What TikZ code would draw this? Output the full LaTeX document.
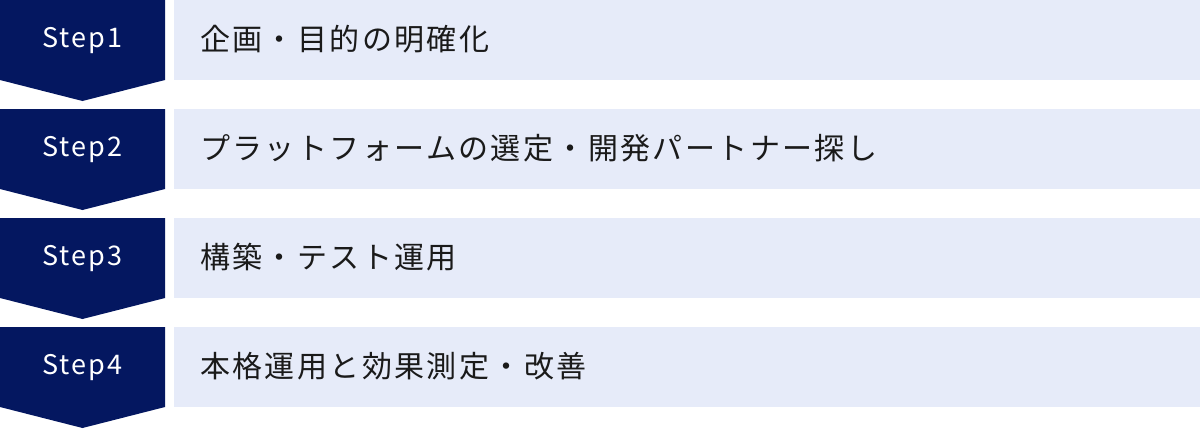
\documentclass[tikz,border=0pt]{standalone}
\usepackage{fontspec}
\setmainfont{Noto Sans CJK JP}[LetterSpace=8]
\newfontfamily\stepfont{Noto Sans CJK JP}[LetterSpace=8]
\definecolor{stepnavy}{RGB}{4,23,96}
\definecolor{rowblue}{RGB}{230,235,249}
\definecolor{rowtext}{RGB}{26,26,26}

\begin{document}
\begin{tikzpicture}[x=1pt,y=-1pt,
    steplabel/.style={text=white, font=\stepfont\fontsize{27}{27}\selectfont, inner sep=0pt},
    rowbox/.style={fill=rowblue, minimum width=1026pt, minimum height=80pt, inner sep=0pt, anchor=north west},
    rowlabel/.style={text=rowtext, font=\fontsize{30}{30}\selectfont, inner sep=0pt, anchor=west}]
      \useasboundingbox (0,0) rectangle (1200,429);

      % step chevrons
      \fill[stepnavy] (0,0) -- (165,0) -- (165,80) -- (82.5,101) -- (0,80) -- cycle;
      \fill[stepnavy] (0,109) -- (165,109) -- (165,189) -- (82.5,210) -- (0,189) -- cycle;
      \fill[stepnavy] (0,218) -- (165,218) -- (165,298) -- (82.5,319) -- (0,298) -- cycle;
      \fill[stepnavy] (0,327) -- (165,327) -- (165,407) -- (82.5,428) -- (0,407) -- cycle;

      \node[steplabel] (s1) at (82.5,41) {Step1};
      \node[steplabel] (s2) at (82.5,150) {Step2};
      \node[steplabel] (s3) at (82.5,259) {Step3};
      \node[steplabel] (s4) at (82.5,368) {Step4};

      % rows
      \node[rowbox] (r1) at (174,0) {};
      \node[rowbox] (r2) at (174,109) {};
      \node[rowbox] (r3) at (174,218) {};
      \node[rowbox] (r4) at (174,327) {};

      \node[rowlabel] (t1) at (200,39) {企画・目的の明確化};
      \node[rowlabel] (t2) at (200,148) {プラットフォームの選定・開発パートナー探し};
      \node[rowlabel] (t3) at (200,257) {構築・テスト運用};
      \node[rowlabel] (t4) at (200,366) {本格運用と効果測定・改善};
    \end{tikzpicture}
\end{document}
